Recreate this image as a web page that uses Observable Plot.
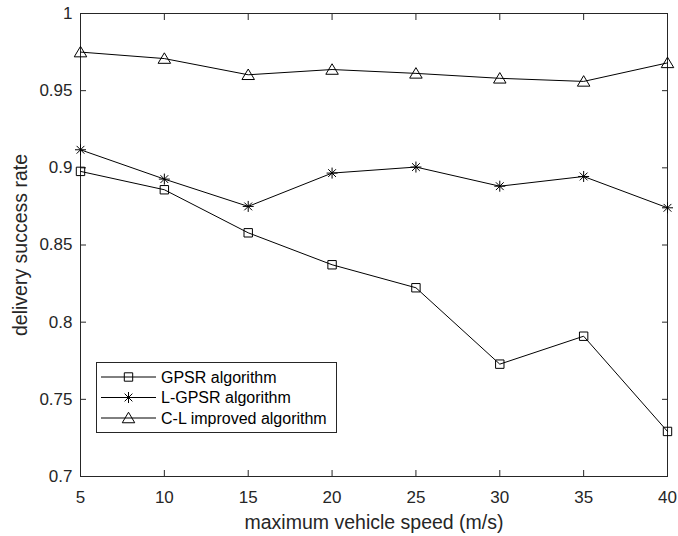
<!DOCTYPE html>
<html>
<head>
<meta charset="utf-8">
<script src="https://cdn.jsdelivr.net/npm/d3@7"></script>
<script src="https://cdn.jsdelivr.net/npm/@observablehq/plot@0.6"></script>
<style>
  html, body { margin: 0; padding: 0; background: #fff; overflow: hidden; }
  #chart { width: 678px; height: 536px; }
</style>
</head>
<body>
<div id="chart"></div>
<script>
// ---- data ----
const speeds = [5, 10, 15, 20, 25, 30, 35, 40];
const seriesNames = ["GPSR algorithm", "L-GPSR algorithm", "C-L improved algorithm"];
const gpsr = [0.8977, 0.8858, 0.8579, 0.8372, 0.8223, 0.7728, 0.7909, 0.7292];
const lgpsr = [0.9117, 0.8927, 0.8750, 0.8966, 0.9005, 0.8881, 0.8944, 0.8741];
const clImproved = [0.9750, 0.9708, 0.9603, 0.9637, 0.9612, 0.9580, 0.9560, 0.9680];
const xTicks = [5, 10, 15, 20, 25, 30, 35, 40];
const yTicks = [0.7, 0.75, 0.8, 0.85, 0.9, 0.95, 1];
const yTickLabels = ["0.7", "0.75", "0.8", "0.85", "0.9", "0.95", "1"];
const xLabel = "maximum vehicle speed (m/s)";
const yLabel = "delivery success rate";

const seriesValues = [gpsr, lgpsr, clImproved];
const data = seriesNames.flatMap((name, i) =>
  speeds.map((s, j) => ({series: name, speed: s, rate: seriesValues[i][j]})));

// ---- MATLAB-like marker symbols ----
const squareSym = {
  draw(ctx, size) {
    const h = Math.sqrt(size / Math.PI);
    ctx.moveTo(-h, -h); ctx.lineTo(h, -h); ctx.lineTo(h, h); ctx.lineTo(-h, h); ctx.closePath();
  }
};
const starSym = {
  draw(ctx, size) {
    const r = Math.sqrt(size / Math.PI);
    const d = r * 0.7071;
    ctx.moveTo(-r, 0); ctx.lineTo(r, 0);
    ctx.moveTo(0, -r); ctx.lineTo(0, r);
    ctx.moveTo(-d, -d); ctx.lineTo(d, d);
    ctx.moveTo(-d, d); ctx.lineTo(d, -d);
  }
};
const triSym = {
  draw(ctx, size) {
    const r = Math.sqrt(size / Math.PI);
    ctx.moveTo(0, -r * 1.15); ctx.lineTo(r * 1.25, r * 0.95); ctx.lineTo(-r * 1.25, r * 0.95); ctx.closePath();
  }
};
const symbols = [squareSym, starSym, triSym];
const symbolR = [4.2, 5.5, 5];

const font = "'Liberation Sans', Arial, Helvetica, sans-serif";
const axisColor = "#262626";

const dotMarks = seriesNames.map((name, i) =>
  Plot.dot(data.filter((d) => d.series === name), {x: "speed", y: "rate",
    symbol: symbols[i], r: symbolR[i], stroke: "#000", strokeWidth: 1, fill: "none"}));

const chart = Plot.plot({
  width: 678,
  height: 536,
  marginLeft: 80,
  marginRight: 11,
  marginTop: 13,
  marginBottom: 60,
  style: {fontFamily: font, fontSize: "16px", background: "#fff", color: axisColor},
  x: {domain: [5, 40]},
  y: {domain: [0.7, 1]},
  marks: [
    // inward ticks on all four sides
    Plot.axisX(xTicks, {anchor: "bottom", tickSize: 6, dy: -6, tickFormat: () => "", label: null, stroke: axisColor}),
    Plot.axisX(xTicks, {anchor: "top", tickSize: 6, dy: 6, tickFormat: () => "", label: null, stroke: axisColor}),
    Plot.axisY(yTicks, {anchor: "left", tickSize: 6, dx: 6, tickFormat: () => "", label: null, stroke: axisColor}),
    Plot.axisY(yTicks, {anchor: "right", tickSize: 6, dx: -6, tickFormat: () => "", label: null, stroke: axisColor}),
    // tick labels
    Plot.axisX(xTicks, {anchor: "bottom", tickSize: 0, tickPadding: 14, fontSize: 17, label: null}),
    Plot.axisY(yTicks, {anchor: "left", tickSize: 0, tickPadding: 8, fontSize: 17,
      tickFormat: (d) => yTickLabels[yTicks.indexOf(d)], label: null}),
    // axis titles
    Plot.axisX([], {anchor: "bottom", tickSize: 0, fontSize: 19.5,
      label: xLabel, labelAnchor: "center", labelOffset: 52, labelArrow: "none"}),
    Plot.axisY([], {anchor: "left", tickSize: 0, fontSize: 19.5,
      label: yLabel, labelAnchor: "center", labelOffset: 67, labelArrow: "none"}),
    Plot.frame({stroke: axisColor, strokeWidth: 1}),
    Plot.line(data, {x: "speed", y: "rate", z: "series", stroke: "#000", strokeWidth: 1}),
    ...dotMarks
  ]
});

// ---- legend (inside plot, lower left) ----
const svg = d3.select(chart);
svg.selectAll("text").style("font-family", font);
const lg = svg.append("g").attr("class", "legend").attr("text-anchor", "start");
const box = {x: 96.5, y: 362.5, w: 240, h: 70};
lg.append("rect").attr("x", box.x).attr("y", box.y).attr("width", box.w).attr("height", box.h)
  .attr("fill", "#fff").attr("stroke", axisColor).attr("stroke-width", 1);
const rowY = [377, 397.5, 418];
seriesNames.forEach((name, i) => {
  const y = rowY[i];
  lg.append("line").attr("x1", 101).attr("x2", 156).attr("y1", y).attr("y2", y)
    .attr("stroke", "#000").attr("stroke-width", 1);
  const r = symbolR[i];
  lg.append("path").attr("transform", `translate(128.5,${y})`)
    .attr("d", d3.symbol(symbols[i], Math.PI * r * r)())
    .attr("fill", "none").attr("stroke", "#000").attr("stroke-width", 1);
  lg.append("text").attr("x", 161).attr("y", y).attr("dy", "0.35em")
    .attr("text-anchor", "start")
    .style("font-family", font).style("font-size", "16px").attr("fill", "#000").text(name);
});

document.getElementById("chart").appendChild(chart);
</script>
</body>
</html>
